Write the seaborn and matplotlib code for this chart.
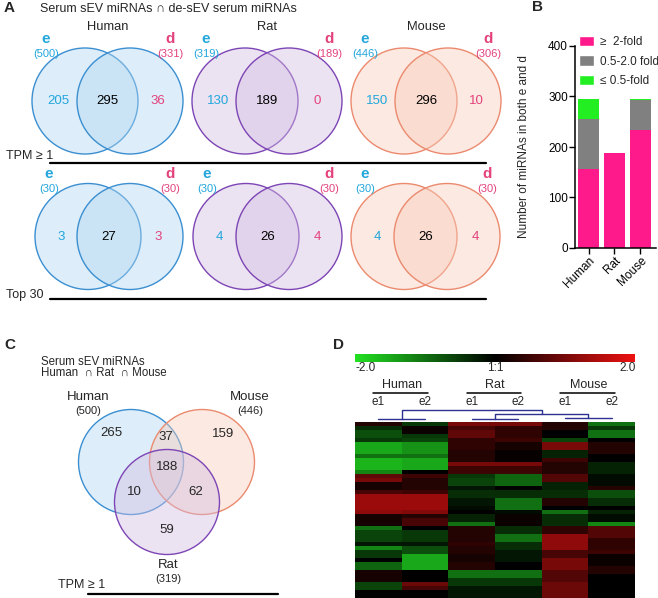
import numpy as np
import pandas as pd
import seaborn as sns
import matplotlib.pyplot as plt
from matplotlib.patches import Circle, Patch
from matplotlib.colors import LinearSegmentedColormap, to_rgba

W, H = 658, 598

# ---- Panel A: e / d overlaps per species
species = ['Human', 'Rat', 'Mouse']
tpm_e_total = [500, 319, 446]
tpm_d_total = [331, 189, 306]
tpm_e_only = [205, 130, 150]
tpm_both = [295, 189, 296]
tpm_d_only = [36, 0, 10]
top_e_total = [30, 30, 30]
top_d_total = [30, 30, 30]
top_e_only = [3, 4, 4]
top_both = [27, 26, 26]
top_d_only = [3, 4, 4]

# ---- Panel B: fold change of shared miRNAs
fold_up = [156, 189, 234]     # >= 2-fold
fold_mid = [99, 0, 60]        # 0.5-2.0 fold
fold_down = [40, 0, 2]        # <= 0.5-fold

# ---- Panel C: Human / Mouse / Rat overlap
c_names = ['Human', 'Mouse', 'Rat']
c_totals = [500, 446, 319]
c_region_keys = ['H', 'HM', 'M', 'HMR', 'HR', 'MR', 'R']
c_region_counts = [265, 37, 159, 188, 10, 62, 59]

# ---- Panel D: heatmap (log2 ratio, row bands)
hm_cols = ['Human e1', 'Human e2', 'Rat e1', 'Rat e2', 'Mouse e1', 'Mouse e2']
human_e1 = [0.3, -0.4, -0.7, -0.7, -0.5, -1.5, -1.5, -1.5, -1.0, -1.6, -1.6, -1.6, -1.2, 0.8, 1.0,
            0.2, 0.2, 0.6, 1.3, 1.3, 1.3, 1.3, 1.2, 0.2, 0.2, 0.2, -1.0, -0.6, -0.6, -0.6, -0.2,
            -1.2, -0.5, -0.5, 0.0, -0.9, -0.9, 0.2, 0.2, 0.2, -0.6, -0.6, 0.0, 0.0]
human_e2 = [-0.5, 0.1, 0.1, -0.5, -0.6, -1.3, -1.3, -1.3, -1.0, -1.5, -1.5, -1.5, 0.0, 0.5, 0.3,
            0.3, 0.3, 0.5, 1.3, 1.3, 1.3, 1.3, 1.1, 0.3, 0.6, 0.6, 0.0, -0.5, -0.5, -0.5, -0.2,
            -0.7, -0.7, -1.5, -1.5, -1.5, -1.5, 0.0, 0.0, 0.0, 0.9, 0.6, 0.0, 0.0]
rat_e1 = [1.0, 0.6, 0.8, 0.8, 0.4, 0.4, 0.4, 0.3, 0.3, 0.3, 1.0, 0.5, 0.5, -0.5, -0.6,
          -0.6, -0.2, -0.4, -0.4, -0.2, -0.2, -0.1, 0.0, -0.3, -0.3, -1.0, 0.3, 0.3, 0.3, 0.3, 0.4,
          0.3, 0.3, 0.2, 0.2, 0.3, 0.3, -1.0, -1.0, -0.5, -0.5, -0.2, -0.2, -0.2]
rat_e2 = [1.0, 0.4, 0.4, 0.4, 0.5, 0.2, 0.2, 0.05, 0.05, 0.05, 1.0, 0.5, 0.5, -0.9, -0.9,
          -0.9, 0.0, -0.4, -0.4, -1.0, -1.0, -1.0, -0.1, 0.1, 0.1, 0.1, -0.4, -0.4, -1.0, -1.0, -0.4,
          -0.4, -0.2, -0.2, -0.2, 0.0, 0.0, -1.0, -1.0, -0.5, -0.5, -0.2, -0.2, -0.2]
mouse_e1 = [0.3, 0.3, 0.0, 0.0, -0.6, 1.0, 1.0, -0.3, -0.3, 0.5, 0.3, 0.3, 0.3, 0.7, 0.7,
            -0.3, -0.3, -0.4, -0.4, 0.3, 0.3, 0.0, -1.0, -0.4, -0.4, -0.4, 0.4, 0.4, 1.2, 1.2, 1.2,
            1.2, 0.6, 0.6, 1.0, 1.0, 1.0, 0.7, 0.7, 0.7, 0.9, 0.9, 0.9, 0.9]
mouse_e2 = [-1.0, -0.5, -1.0, -1.0, 0.0, 0.3, 0.3, 0.3, 0.0, 0.0, -0.3, -0.3, -0.3, -0.1, -0.1,
            -0.1, 0.3, -0.7, -0.7, -0.4, -0.4, 0.0, -0.3, -0.1, -0.1, -1.2, 0.7, 0.7, 0.7, 0.4, 0.4,
            0.4, 0.5, 0.1, 0.1, 0.1, 0.3, 0.3, 0.0, 0.0, 0.0, 0.0, 0.0, 0.0]

# colours
sp_edge = ['#3b8fd1', '#7d45b5', '#eb8a6e']
sp_fill = ['#b0d6f1', '#d2bde2', '#f8cbb9']
e_col = '#22a6dc'
d_col = '#e3427c'
pink, gray, green = '#ff1a8c', '#808080', '#22ee22'
dendro_col = '#2e3192'

sns.set_style('ticks')
plt.rcParams['font.family'] = ['Liberation Sans', 'DejaVu Sans']

fig = plt.figure(figsize=(W / 100, H / 100), dpi=100)
ov = fig.add_axes([0, 0, 1, 1])
ov.set_xlim(0, W)
ov.set_ylim(H, 0)
ov.axis('off')


def venn2(lx, rx, cy, r, i, e_tot, d_tot, e_only, both, d_only):
    for cx in (lx, rx):
        ov.add_patch(Circle((cx, cy), r, facecolor=to_rgba(sp_fill[i], 0.42),
                            edgecolor=sp_edge[i], lw=1.0, zorder=2))
    ov.text(lx - 39, cy - 62, 'e', color=e_col, fontsize=11, fontweight='bold', ha='center', va='center')
    ov.text(lx - 39, cy - 47, f'({e_tot})', color=e_col, fontsize=8, ha='center', va='center')
    ov.text(rx + 40, cy - 62, 'd', color=d_col, fontsize=11, fontweight='bold', ha='center', va='center')
    ov.text(rx + 40, cy - 47, f'({d_tot})', color=d_col, fontsize=8, ha='center', va='center')
    ov.text(lx - 27, cy, str(e_only), color=e_col, fontsize=9.5, ha='center', va='center', zorder=3)
    ov.text((lx + rx) / 2, cy, str(both), color='black', fontsize=9.5, ha='center', va='center', zorder=3)
    ov.text(rx + 28, cy, str(d_only), color=d_col, fontsize=9.5, ha='center', va='center', zorder=3)


# ---------------- Panel A
ov.text(4, 8, 'A', fontsize=11, fontweight='bold', va='center')
ov.text(40, 9, 'Serum sEV miRNAs \u2229 de-sEV serum miRNAs', fontsize=9, va='center')
top_centres = [(85, 130), (245, 289), (404, 448)]
bot_centres = [(88, 130), (246, 289), (404, 447)]
for i, sp in enumerate(species):
    ov.text((top_centres[i][0] + top_centres[i][1]) / 2, 27, sp, fontsize=9.3, ha='center', va='center')
    venn2(top_centres[i][0], top_centres[i][1], 101, 53, i,
          tpm_e_total[i], tpm_d_total[i], tpm_e_only[i], tpm_both[i], tpm_d_only[i])
    venn2(bot_centres[i][0], bot_centres[i][1], 236.5, 53, i,
          top_e_total[i], top_d_total[i], top_e_only[i], top_both[i], top_d_only[i])
ov.text(6, 156, 'TPM \u2265 1', fontsize=9, va='center')
ov.plot([50, 486], [163, 163], color='black', lw=1.6)
ov.text(6, 295, 'Top 30', fontsize=9, va='center')
ov.plot([50, 486], [299, 299], color='black', lw=1.6)

# ---------------- Panel B
ov.text(532, 7, 'B', fontsize=11, fontweight='bold', va='center')
ax_b = fig.add_axes([575 / W, 1 - 248 / H, 81 / W, 202 / H])
tot_all = [a + b + c for a, b, c in zip(fold_up, fold_mid, fold_down)]
tot_two = [a + b for a, b in zip(fold_up, fold_mid)]
for vals, col in [(tot_all, green), (tot_two, gray), (fold_up, pink)]:
    sns.barplot(x=species, y=vals, color=col, saturation=1, width=0.82,
                errorbar=None, edgecolor='none', ax=ax_b)
ax_b.set_xlim(-0.52, 2.6)
ax_b.set_ylim(0, 400)
ax_b.set_yticks([0, 100, 200, 300, 400])
ax_b.tick_params(labelsize=8.5, length=4, width=1, pad=1, colors='black')
ax_b.set_xticks(range(3))
ax_b.set_xticklabels(species, rotation=45, ha='right', rotation_mode='anchor')
ax_b.set_ylabel('Number of miRNAs in both e and d', fontsize=8.5)
ax_b.yaxis.set_label_coords(-0.55, 0.5)
sns.despine(ax=ax_b)
for s in ['left', 'bottom']:
    ax_b.spines[s].set_linewidth(1.1)
    ax_b.spines[s].set_color('black')
ax_b.set_facecolor('none')
fig.legend([Patch(facecolor=pink), Patch(facecolor=gray), Patch(facecolor=green)],
           ['\u2265  2-fold', '0.5-2.0 fold', '\u2264 0.5-fold'],
           loc='upper left', bbox_to_anchor=(579 / W, 1 - 36 / H), frameon=False,
           fontsize=8.5, handlelength=1.3, handleheight=0.95, handletextpad=0.5,
           labelspacing=0.62, borderpad=0, borderaxespad=0)

# ---------------- Panel C
ov.text(4, 345, 'C', fontsize=11, fontweight='bold', va='center')
ov.text(41, 362, 'Serum sEV miRNAs', fontsize=8.3, va='center')
ov.text(41, 373, 'Human  \u2229 Rat  \u2229 Mouse', fontsize=8.3, va='center')
c_centres = {'Human': (131, 462), 'Mouse': (202, 462), 'Rat': (167, 502)}
c_idx = {'Human': 0, 'Mouse': 2, 'Rat': 1}
for name in c_names:
    i = c_idx[name]
    ov.add_patch(Circle(c_centres[name], 52.5, facecolor=to_rgba(sp_fill[i], 0.42),
                        edgecolor=sp_edge[i], lw=1.0, zorder=2))
c_label_pos = {'Human': [(88, 397), (88, 411)], 'Mouse': [(250, 397), (250, 411)],
               'Rat': [(168, 565), (168, 579)]}
for name, tot in zip(c_names, c_totals):
    (x1, y1), (x2, y2) = c_label_pos[name]
    ov.text(x1, y1, name, fontsize=9.5, ha='center', va='center')
    ov.text(x2, y2, f'({tot})', fontsize=8, ha='center', va='center')
region_pos = {'H': (111, 433), 'HM': (166, 437), 'M': (223, 434), 'HMR': (167, 467),
              'HR': (134, 492), 'MR': (196, 492), 'R': (167, 530)}
for k, n in zip(c_region_keys, c_region_counts):
    ov.text(*region_pos[k], str(n), fontsize=9.5, ha='center', va='center', zorder=3)
ov.text(58, 585, 'TPM \u2265 1', fontsize=9, va='center')
ov.plot([88, 278], [594, 594], color='black', lw=1.6)

# ---------------- Panel D
ov.text(333, 345, 'D', fontsize=11, fontweight='bold', va='center')
cmap = LinearSegmentedColormap.from_list('gbr', ['#22e022', '#000000', '#ee1111'])
hm = pd.DataFrame({'Human e1': human_e1, 'Human e2': human_e2, 'Rat e1': rat_e1,
                   'Rat e2': rat_e2, 'Mouse e1': mouse_e1, 'Mouse e2': mouse_e2})[hm_cols]
hx0, hx1, hy0, hy1 = 355, 635, 422, 598
ax_h = fig.add_axes([hx0 / W, 1 - hy1 / H, (hx1 - hx0) / W, (hy1 - hy0) / H])
ax_cb = fig.add_axes([hx0 / W, 1 - 362 / H, (hx1 - hx0) / W, 8 / H])
sns.heatmap(hm, cmap=cmap, vmin=-2, vmax=2, cbar=False, xticklabels=False,
            yticklabels=False, ax=ax_h)
cb = fig.colorbar(ax_h.collections[0], cax=ax_cb, orientation='horizontal')
cb.set_ticks([])
cb.outline.set_visible(False)
ov.text(hx0 + 1, 368, '-2.0', fontsize=8.5, va='center')
ov.text(495, 368, '1:1', fontsize=8.5, ha='center', va='center')
ov.text(hx1 + 1, 368, '2.0', fontsize=8.5, ha='right', va='center')

colw = (hx1 - hx0) / len(hm_cols)
col_x = [hx0 + colw * (j + 0.5) for j in range(len(hm_cols))]
for g, sp in enumerate(species):
    xa, xb = col_x[2 * g], col_x[2 * g + 1]
    mid = (xa + xb) / 2
    ov.text(mid, 385, sp, fontsize=9, ha='center', va='center')
    ov.plot([xa - 5, xb + 3], [393, 393], color='black', lw=1.1)
    ov.text(xa, 402, 'e1', fontsize=8.5, ha='center', va='center')
    ov.text(xb, 402, 'e2', fontsize=8.5, ha='center', va='center')

# dendrogram
pair_y = [419, 419, 418]
mids = []
for g in range(3):
    xa, xb = col_x[2 * g], col_x[2 * g + 1]
    ov.plot([xa, xb], [pair_y[g], pair_y[g]], color=dendro_col, lw=1)
    mids.append((xa + xb) / 2)
ov.plot([mids[1], mids[1], mids[2], mids[2]], [pair_y[1], 414, 414, pair_y[2]], color=dendro_col, lw=1)
rm = (mids[1] + mids[2]) / 2
ov.plot([mids[0], mids[0], rm, rm], [pair_y[0], 410, 410, 414], color=dendro_col, lw=1)

fig.savefig('out.png', dpi=100)
